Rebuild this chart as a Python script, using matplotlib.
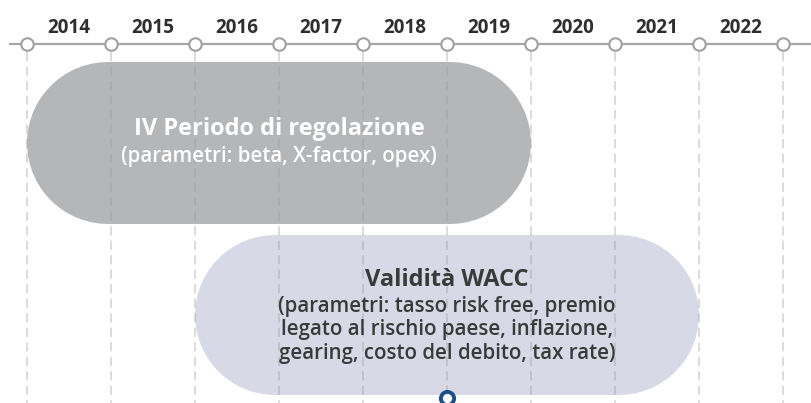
import matplotlib
matplotlib.use("Agg")
import matplotlib.pyplot as plt

plt.rcParams['font.family'] = ['Open Sans', 'DejaVu Sans']

# ---- data ----
years = [2014, 2015, 2016, 2017, 2018, 2019, 2020, 2021, 2022]
boundaries = [2014, 2015, 2016, 2017, 2018, 2019, 2020, 2021, 2022, 2023]
periods = ["IV Periodo di regolazione", "Validità WACC"]
period_start = [2014, 2016]
period_end = [2020, 2022]
period_sub = [["(parametri: beta, X-factor, opex)"],
              ["(parametri: tasso risk free, premio",
               "legato al rischio paese, inflazione,",
               "gearing, costo del debito, tax rate)"]]
marker_year = 2019

# ---- styling ----
DPI = 100
px_per_year = 84.0
x0 = 2014 - 27 / px_per_year
x1 = x0 + 811 / px_per_year

fig = plt.figure(figsize=(8.11, 4.03), dpi=DPI)
ax = fig.add_axes([0, 0, 1, 1])
ax.set_xlim(x0, x1)
ax.set_ylim(403, 0)
ax.axis('off')

line_y = 44
# dashed verticals
for b in boundaries:
    ax.plot([b, b], [52, 403], color='#999999', alpha=0.45, lw=1.1,
            dashes=(6, 3.5), zorder=3)

# timeline
ax.plot([x0 + 10 / px_per_year, x1], [line_y, line_y], color='#a8a8a8', lw=1.6, zorder=4)
ax.plot(boundaries, [line_y] * len(boundaries), 'o', ms=9, mfc='white',
        mec='#a0a0a0', mew=1.5, zorder=5)

# year labels
for i, y in enumerate(years):
    xc = (boundaries[i] + boundaries[i + 1]) / 2
    ax.text(xc, 33, str(y), ha='center', va='baseline', fontsize=13.6,
            fontweight='bold', color='#2e2e2e', zorder=6)

# pills drawn as thick round-capped lines (semicircular ends)
fills = ['#b5b6b8', '#d8d9e6']
tcolors = ['white', '#3a3a3a']
ytops = [62, 235]
heights = [162, 160]
title_base = [135, 286]
sub_base = [162, 312]
line_step = 23.3
for i in range(2):
    h = heights[i]
    r = h / 2 / px_per_year
    yc = ytops[i] + h / 2
    ax.plot([period_start[i] + r, period_end[i] - r], [yc, yc],
            color=fills[i], lw=h * 72 / DPI, solid_capstyle='round', zorder=2)
    xc = (period_start[i] + period_end[i]) / 2
    ax.text(xc, title_base[i], periods[i], ha='center', va='baseline', fontsize=17,
            fontweight='bold', color=tcolors[i], zorder=6)
    for j, s in enumerate(period_sub[i]):
        ax.text(xc, sub_base[i] + j * line_step, s, ha='center', va='baseline',
                fontsize=14.8, fontweight='semibold', color=tcolors[i], zorder=6)

# marker
ax.plot([marker_year], [398], 'o', ms=9.5, mfc='white', mec='#1d4e89', mew=2.8,
        zorder=7, clip_on=False)

fig.savefig('out.png', dpi=DPI)
